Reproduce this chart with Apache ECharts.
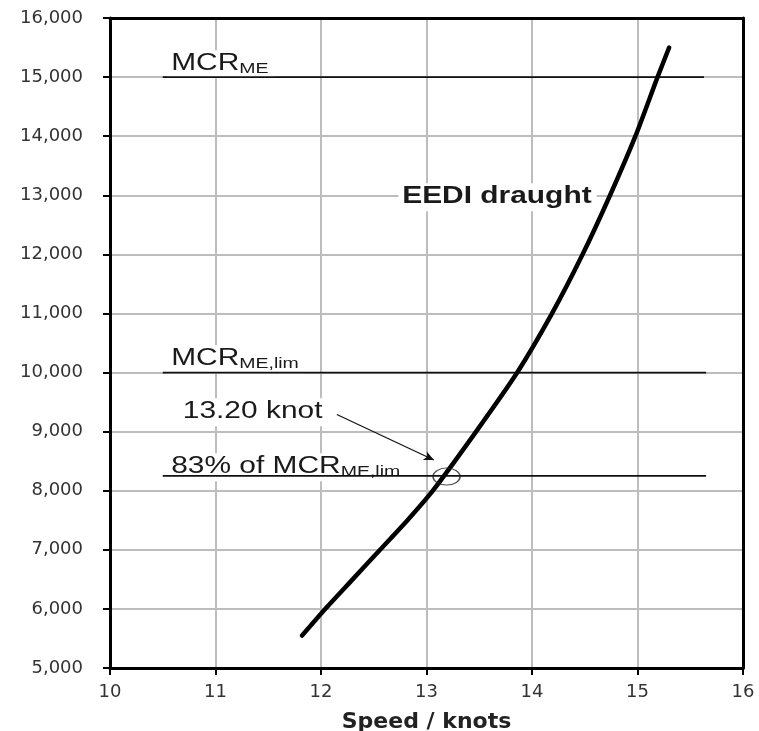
<!DOCTYPE html>
<html><head><meta charset="utf-8">
<script src="https://cdn.jsdelivr.net/npm/echarts@6/dist/echarts.min.js"></script>
<style>html,body{margin:0;padding:0;background:#fff}#c{width:759px;height:731px}</style>
</head><body><div id="c"></div>
<script>
// ---- data ----
const curveSpeed = [11.82, 12.04, 12.30, 12.56, 12.82, 13.06, 13.47, 13.86, 14.19, 14.48, 14.74, 14.98, 15.19, 15.30];
const curvePower = [5550, 6000, 6500, 7000, 7500, 8000, 9000, 10000, 11000, 12000, 13000, 14000, 15000, 15500];
const refLevels = [15000, 10000, 8250];
const refStart = [10.5, 10.5, 10.5];
const refEnd = [15.63, 15.65, 15.65];
const markSpeed = [13.19];
const markPower = [8240];
const arrowFrom = [12.15, 9290];
const arrowTo = [13.07, 8520];
const labelMain = ['MCR', 'MCR', '13.20 knot', '83% of MCR', 'EEDI draught'];
const labelSub = ['ME', 'ME,lim', '', 'ME,lim', ''];
const labelBold = [false, false, false, false, true];
const labelX = [10.58, 10.58, 10.69, 10.58, 12.77];
const labelY = [15420, 10430, 9530, 8600, 13170];
const xMin = 10, xMax = 16, xStep = 1;
const yMin = 5000, yMax = 16000, yStep = 1000;

const chart = echarts.init(document.getElementById('c'), null, {renderer: 'canvas'});
const fmt = v => v.toLocaleString('en-US');
const series = [];
series.push({
  type: 'line', data: curveSpeed.map((s, i) => [s, curvePower[i]]),
  smooth: 0.25, showSymbol: false, symbol: 'none', z: 3,
  lineStyle: {color: '#000', width: 4.5, cap: 'round'}
});
refLevels.forEach((lv, i) => {
  series.push({
    type: 'line', data: [[refStart[i], lv], [refEnd[i], lv]], symbol: 'none', z: 2,
    lineStyle: {color: '#111', width: 1.8}
  });
});
series.push({
  type: 'scatter', data: markSpeed.map((s, i) => [s, markPower[i]]), symbol: 'circle', symbolSize: [27, 17], z: 4,
  itemStyle: {color: 'rgba(0,0,0,0)', borderColor: '#222', borderWidth: 1.3},
  markLine: {
    silent: true, symbol: ['none', 'arrow'], symbolSize: [7, 10], animation: false,
    lineStyle: {color: '#111', width: 1.2, type: 'solid'}, label: {show: false},
    data: [[{coord: arrowFrom}, {coord: arrowTo}]]
  }
});

const axisCommon = {
  axisLine: {show: true, lineStyle: {color: '#000', width: 3}},
  axisTick: {show: true, inside: false, length: 7, lineStyle: {color: '#000', width: 2}},
  splitLine: {show: true, lineStyle: {color: '#bdbdbd', width: 2}}
};
chart.setOption({
  animation: false,
  grid: {left: 110, right: 16, top: 18, bottom: 63, containLabel: false, outerBoundsMode: 'none'},
  xAxis: [
    Object.assign({type: 'value', min: xMin, max: xMax, interval: xStep, position: 'bottom',
      axisLabel: {fontFamily: 'DejaVu Sans', fontSize: 18, color: '#333', margin: 15},
      name: 'Speed / knots', nameLocation: 'middle', nameGap: 43,
      nameTextStyle: {fontFamily: 'DejaVu Sans', fontWeight: 'bold', fontSize: 22, color: '#222'}}, axisCommon),
    {type: 'value', min: xMin, max: xMax, interval: xStep, position: 'top',
      axisLine: {show: true, onZero: false, lineStyle: {color: '#000', width: 3}},
      axisTick: {show: false}, axisLabel: {show: false}, splitLine: {show: false}}
  ],
  yAxis: [
    Object.assign({type: 'value', min: yMin, max: yMax, interval: yStep, position: 'left',
      axisLabel: {fontFamily: 'DejaVu Sans', fontSize: 18, color: '#333', margin: 27, formatter: fmt}}, axisCommon),
    {type: 'value', min: yMin, max: yMax, interval: yStep, position: 'right',
      axisLine: {show: true, onZero: false, lineStyle: {color: '#000', width: 3}},
      axisTick: {show: false}, axisLabel: {show: false}, splitLine: {show: false}}
  ],
  series: series
});

// annotations placed from data coordinates
const sx = 1.3, padL = 3, padT = 2;
const graphics = labelMain.map((t, i) => {
  const p = chart.convertToPixel({xAxisIndex: 0, yAxisIndex: 0}, [labelX[i], labelY[i]]);
  const txt = '{m|' + t + '}' + (labelSub[i] ? '{s|' + labelSub[i] + '}' : '');
  return {
    type: 'text', z: 1, silent: true,
    x: p[0] - padL * sx, y: p[1] - padT, scaleX: sx, scaleY: 1,
    style: {
      text: txt, align: 'left', verticalAlign: 'top', textAlign: 'left', textVerticalAlign: 'top',
      backgroundColor: '#fff', padding: [padT, 4, 2, padL],
      rich: {
        m: {fontFamily: 'Liberation Sans', fontSize: 23, fontWeight: labelBold[i] ? 'bold' : 'normal',
            fill: '#1a1a1a', lineHeight: 24, verticalAlign: 'top'},
        s: {fontFamily: 'Liberation Sans', fontSize: 15, fill: '#1a1a1a', lineHeight: 6, verticalAlign: 'bottom'}
      }
    }
  };
});
chart.setOption({graphic: {elements: graphics}});
</script></body></html>
